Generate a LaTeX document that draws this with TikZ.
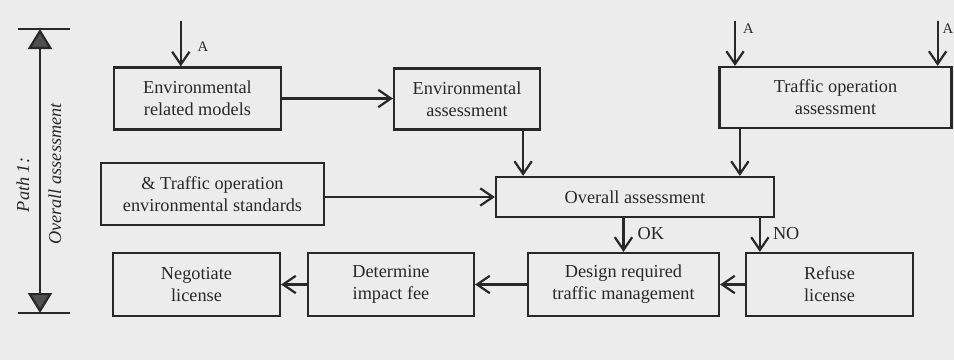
\documentclass[tikz,border=0pt]{standalone}
\usepackage{fontspec}
\setmainfont{Liberation Serif}
\usepackage{tikz}
\usetikzlibrary{positioning}
\usetikzlibrary{arrows.meta}
\definecolor{bggray}{RGB}{236,236,236}
\definecolor{ink}{RGB}{40,40,40}
\definecolor{tipgray}{RGB}{80,80,80}

\begin{document}
\begin{tikzpicture}[x=0.03cm, y=-0.03cm, line width=1.9pt, color=ink,
    main/.style = {draw, rectangle, align=center, inner sep=0pt, minimum height=1.86cm, font=\fontsize{15.6}{18.8}\selectfont},
    flow/.style = {-{Straight Barb[length=0.38cm, width=0.52cm]}},
    tag/.style = {anchor=west, inner sep=0pt, font=\fontsize{15.6}{18.8}\selectfont},
    smalltag/.style = {anchor=west, inner sep=0pt, font=\fontsize{12.5}{14}\selectfont}]
            \fill[bggray] (0,0) rectangle (954,360);
            \useasboundingbox (0,0) rectangle (954,360);
            % Nodes
            \node[main, minimum width=5.01cm] (erm) at (197.5,98.5) {Environmental\\related models};
            \node[main, minimum width=4.38cm, minimum height=1.83cm] (ea) at (467,99) {Environmental\\assessment};
            \node[main, minimum width=6.96cm, minimum height=1.83cm] (toa) at (835.5,97.5) {Traffic operation\\assessment};
            \node[main, minimum width=6.69cm] (std) at (212.5,194) {\& Traffic operation\\environmental standards};
            \node[main, minimum width=8.34cm, minimum height=1.2cm] (oa) at (635,197) {Overall assessment};
            \node[main, minimum width=5.01cm, minimum height=1.89cm] (neg) at (196.5,284.5) {Negotiate\\license};
            \node[main, minimum width=4.98cm, minimum height=1.89cm] (det) at (391,284.5) {Determine\\impact fee};
            \node[main, minimum width=5.73cm, minimum height=1.89cm] (des) at (623.5,284.5) {Design required\\traffic management};
            \node[main, minimum width=5.01cm, minimum height=1.89cm] (ref) at (829.5,284.5) {Refuse\\license};
            % Side marker
            \coordinate (top) at (40,29);
            \coordinate (bot) at (40,313);
            \draw (18,29) -- (70,29);
            \draw (18,313) -- (70,313);
            \draw[{Triangle[length=0.6cm, width=0.72cm, fill=tipgray]}-{Triangle[length=0.6cm, width=0.72cm, fill=tipgray]}] (top) -- (bot);
            \node[rotate=90, font=\itshape\fontsize{15.6}{18.8}\selectfont] (pathlbl) at (23,185) {Path 1:};
            \node[rotate=90, font=\itshape\fontsize{15.6}{18.8}\selectfont] (sidelbl) at (55,174) {Overall assessment};
            % Free ends
            \coordinate (inA) at ([xshift=-0.5cm, yshift=1.35cm]erm.north);
            \coordinate (inB) at ([xshift=0.5cm, yshift=1.35cm]toa.north west);
            \coordinate (inC) at ([xshift=-0.45cm, yshift=1.35cm]toa.north east);
            \coordinate (eaout) at ([xshift=-0.54cm]ea.south east);
            \coordinate (toaout) at ([xshift=0.645cm]toa.south west);
            \coordinate (noin) at ([xshift=0.45cm]ref.north west);
            % Edges
            \draw[flow] (inA) -- (inA |- erm.north) node[smalltag, pos=0.56, xshift=0.47cm] {A};
            \draw[flow] (inB) -- (inB |- toa.north) node[smalltag, pos=0.18, xshift=0.21cm] {A};
            \draw[flow] (inC) -- (inC |- toa.north) node[smalltag, pos=0.18, xshift=0.12cm] {A};
            \draw[flow] (erm.east) -- (erm.east -| ea.west);
            \draw[flow] (eaout) -- (eaout |- oa.north);
            \draw[flow] (toaout) -- (toaout |- oa.north);
            \draw[flow] (std.east |- oa.west) -- (oa.west);
            \draw[flow] (des.north |- oa.south) -- (des.north) node[tag, pos=0.45, xshift=0.39cm] {OK};
            \draw[flow] (noin |- oa.south) -- (noin) node[tag, pos=0.45, xshift=0.36cm] {NO};
            \draw[flow] (ref.west) -- (des.east);
            \draw[flow] (des.west) -- (det.east);
            \draw[flow] (det.west) -- (neg.east);
\end{tikzpicture}
\end{document}
